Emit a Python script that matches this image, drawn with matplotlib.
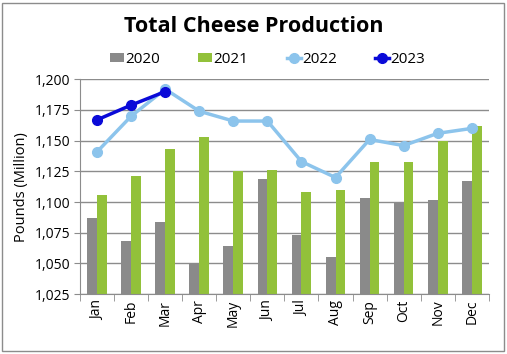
import numpy as np
import matplotlib
matplotlib.use("Agg")
import matplotlib.pyplot as plt
from matplotlib.patches import Rectangle
from matplotlib.ticker import FuncFormatter

months = ["Jan", "Feb", "Mar", "Apr", "May", "Jun", "Jul", "Aug", "Sep", "Oct", "Nov", "Dec"]
prod_2020 = [1087, 1068, 1084, 1050, 1064, 1119, 1073, 1055, 1103, 1099, 1102, 1117]
prod_2021 = [1106, 1121, 1143, 1153, 1125, 1126, 1108, 1110, 1133, 1133, 1150, 1162]
prod_2022 = [1141, 1170, 1192, 1174, 1166, 1166, 1133, 1120, 1151, 1146, 1156, 1160]
prod_2023 = [1167, 1179, 1190]

plt.rcParams['font.family'] = ['Open Sans', 'DejaVu Sans']

fig = plt.figure(figsize=(5.07, 3.54), dpi=100)
ax = fig.add_axes([0.158, 0.169, 0.806, 0.607])

x = np.arange(len(months))
w = 0.29
b1 = ax.bar(x - w / 2, prod_2020, w, color="#8a8a8a", label="2020", zorder=2)
b2 = ax.bar(x + w / 2, prod_2021, w, color="#92c13a", label="2021", zorder=2)
l1, = ax.plot(x, prod_2022, color="#8cc4ec", lw=2.5, marker="o", ms=7, label="2022", zorder=3)
l2, = ax.plot(x[:len(prod_2023)], prod_2023, color="#0a0ad8", lw=2.5, marker="o", ms=7, label="2023", zorder=4)

ax.set_ylim(1025, 1200)
ax.set_xlim(-0.5, 11.5)
ax.set_yticks(np.arange(1025, 1201, 25))
ax.yaxis.set_major_formatter(FuncFormatter(lambda v, p: f"{int(v):,}"))
ax.grid(axis="y", color="#8c8c8c", lw=1, zorder=0)
ax.set_xticks(x)
ax.set_xticklabels(months, rotation=90, fontsize=10)
ax.set_xticks(np.arange(-0.5, 12, 1), minor=True)
ax.tick_params(axis="x", which="major", length=0, pad=4)
ax.tick_params(axis="x", which="minor", length=5, color="#8c8c8c")
ax.tick_params(axis="y", length=4, color="#8c8c8c", labelsize=10, pad=3)
for s in ["top", "right"]:
    ax.spines[s].set_visible(False)
for s in ["left", "bottom"]:
    ax.spines[s].set_color("#8c8c8c")
ax.set_ylabel("Pounds (Million)", fontsize=10.5, labelpad=4)

fig.suptitle("Total Cheese Production", x=0.5, y=0.955, fontsize=15.5, fontweight="bold")
fig.legend([b1, b2, l1, l2], ["2020", "2021", "2022", "2023"], loc="center",
           bbox_to_anchor=(0.528, 0.832), ncol=4, frameon=False,
           fontsize=11, handlelength=0.9, handleheight=0.6, handletextpad=0.1,
           columnspacing=2.5)

fig.patches.append(Rectangle((0.004, 0.008), 0.99, 0.983, transform=fig.transFigure,
                             fill=False, edgecolor="#8c8c8c", lw=1))

fig.savefig("out.png", dpi=100)
